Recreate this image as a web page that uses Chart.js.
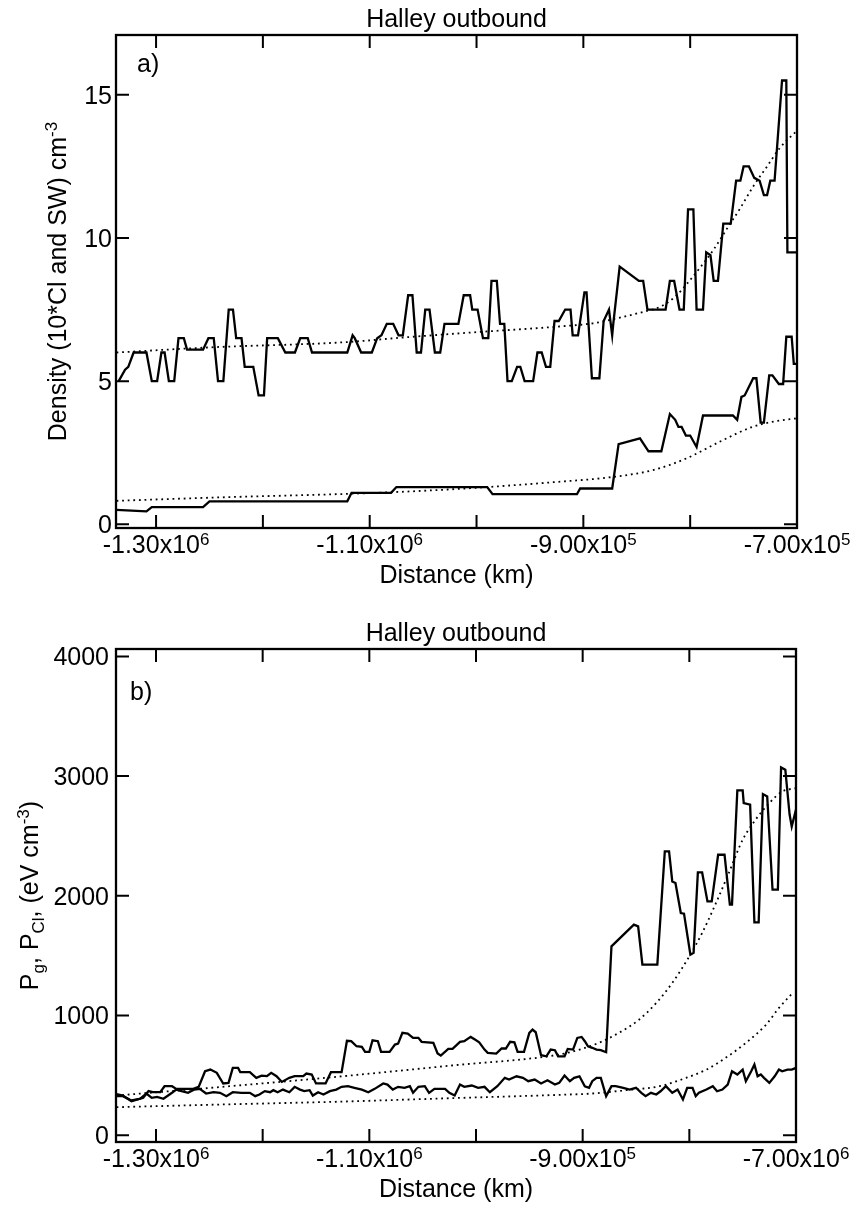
<!DOCTYPE html>
<html>
<head>
<meta charset="utf-8">
<title>Halley outbound</title>
<script src="https://cdn.jsdelivr.net/npm/chart.js@4.4.0/dist/chart.umd.min.js"></script>
<style>
  html, body { margin: 0; padding: 0; background: #fff; }
  #wrap { position: relative; width: 857px; height: 1210px; }
  canvas { position: absolute; left: 0; }
</style>
</head>
<body>
<div id="wrap">
  <canvas id="chartA" width="857" height="605" style="top:0"></canvas>
  <canvas id="chartB" width="857" height="605" style="top:605px"></canvas>
</div>
<script>
// ---- panel a: densities (cm-3) against distance (km) ----
const swDist = [-1335e3, -1329e3, -1326e3, -1321e3, -1312e3, -1309e3, -1304e3, -1299e3, -1295e3, -1292e3,
  -1288e3, -1283e3, -1279e3, -1274e3, -1271e3, -1256e3, -1251e3, -1246e3, -1242e3, -1237e3,
  -1232e3, -1228e3, -1225e3, -1220e3, -1217e3, -1209e3, -1204e3, -1199e3, -1196e3, -1186e3,
  -1179e3, -1170e3, -1165e3, -1158e3, -1154e3, -1121e3, -1116e3, -1114e3, -1108e3, -1098e3,
  -1093e3, -1089e3, -1084e3, -1078e3, -1073e3, -1069e3, -1064e3, -1060e3, -1056e3, -1052e3,
  -1048e3, -1044e3, -1039e3, -1034e3, -1030e3, -1017e3, -1012e3, -1006e3, -1004e3, -999e3,
  -994e3, -989e3, -986e3, -981e3, -978e3, -974e3, -971e3, -967e3, -962e3, -959e3,
  -955e3, -947e3, -943e3, -939e3, -935e3, -931e3, -927e3, -923e3, -917e3, -912e3,
  -910e3, -905e3, -899e3, -897e3, -892e3, -885e3, -881e3, -876e3, -873e3, -872e3,
  -866e3, -848e3, -844e3, -840e3, -823e3, -819e3, -815e3, -810e3, -806e3, -802e3,
  -797e3, -794e3, -788e3, -785e3, -781e3, -778e3, -774e3, -769e3, -762e3, -757e3,
  -753e3, -750e3, -745e3, -740e3, -735e3, -731e3, -728e3, -725e3, -721e3, -714e3,
  -710e3, -709e3, -700e3];
const swDens = [5.0, 5.4, 5.5, 6.0, 6.0, 6.0, 5.0, 5.0, 6.0, 6.0,
  5.0, 5.0, 6.5, 6.5, 6.1, 6.1, 6.5, 6.5, 5.0, 5.0,
  7.5, 7.5, 6.5, 6.5, 5.5, 5.5, 4.5, 4.5, 6.5, 6.5,
  6.0, 6.0, 6.5, 6.5, 6.0, 6.0, 6.6, 6.5, 6.0, 6.0,
  6.5, 6.6, 7.0, 7.0, 6.6, 6.6, 8.0, 8.0, 6.0, 6.0,
  7.5, 7.5, 6.0, 6.0, 7.0, 7.0, 8.0, 8.0, 7.5, 7.5,
  6.5, 6.5, 8.5, 8.5, 7.0, 7.0, 5.0, 5.0, 5.5, 5.5,
  5.0, 5.0, 6.0, 6.0, 5.5, 5.5, 7.1, 7.1, 7.5, 7.5,
  6.6, 6.6, 8.1, 8.1, 5.1, 5.1, 7.1, 7.5, 6.6, 7.0,
  9.0, 8.5, 8.5, 7.5, 7.5, 8.5, 8.5, 7.5, 7.5, 11.0,
  11.0, 7.5, 7.5, 9.5, 9.4, 8.5, 8.5, 10.5, 10.5, 12.0,
  12.0, 12.5, 12.5, 12.1, 12.0, 11.5, 11.5, 12.0, 12.0, 15.5,
  15.5, 9.5, 9.5];

const clDist = [-1337e3, -1309e3, -1304e3, -1256e3, -1250e3, -1121e3, -1117e3, -1080e3, -1075e3, -990e3,
  -985e3, -906e3, -903e3, -873e3, -867e3, -847e3, -839e3, -827e3, -819e3, -814e3,
  -811e3, -808e3, -804e3, -800e3, -794e3, -788e3, -775e3, -760e3, -756e3, -752e3,
  -749e3, -741e3, -738e3, -734e3, -731e3, -726e3, -723e3, -717e3, -713e3, -710e3,
  -705e3, -703e3, -700e3];
const clDens = [0.5, 0.45, 0.6, 0.6, 0.8, 0.8, 1.1, 1.1, 1.3, 1.3,
  1.05, 1.05, 1.25, 1.25, 2.8, 3.0, 2.55, 2.55, 3.85, 3.65,
  3.4, 3.4, 3.1, 3.1, 2.7, 3.8, 3.8, 3.8, 3.65, 4.45,
  4.5, 5.1, 5.1, 3.55, 3.55, 5.2, 5.2, 4.9, 4.9, 6.55,
  6.55, 5.6, 5.6];

// fitted curves (dotted)
const swFitDist = [-1337e3, -1249e3, -1123e3, -1070e3, -1008e3, -912e3, -891e3, -869e3, -844e3, -828e3,
  -814e3, -803e3, -791e3, -778e3, -766e3, -753e3, -741e3, -728e3, -716e3, -700e3];
const swFitDens = [6.0, 6.18, 6.36, 6.52, 6.69, 6.94, 7.02, 7.19, 7.42, 7.6,
  7.95, 8.4, 8.95, 9.6, 10.3, 11.05, 11.8, 12.5, 13.15, 13.75];
const clFitDist = [-1337e3, -1231e3, -1123e3, -1044e3, -990e3, -928e3, -873e3, -834e3, -803e3, -772e3,
  -741e3, -720e3, -700e3];
const clFitDens = [0.82, 0.95, 1.06, 1.18, 1.3, 1.47, 1.65, 1.9, 2.31, 2.89,
  3.41, 3.6, 3.7];

// ---- panel b: pressures (eV cm-3) against distance (km) ----
const pgDist = [-1337e3, -1331e3, -1323e3, -1312e3, -1307e3, -1303e3, -1296e3, -1292e3, -1285e3, -1281e3,
  -1265e3, -1260e3, -1254e3, -1249e3, -1243e3, -1237e3, -1232e3, -1228e3, -1223e3, -1221e3,
  -1212e3, -1206e3, -1201e3, -1196e3, -1192e3, -1187e3, -1182e3, -1175e3, -1170e3, -1162e3,
  -1159e3, -1154e3, -1150e3, -1141e3, -1136e3, -1126e3, -1121e3, -1117e3, -1112e3, -1107e3,
  -1104e3, -1100e3, -1097e3, -1092e3, -1089e3, -1081e3, -1076e3, -1073e3, -1069e3, -1064e3,
  -1059e3, -1054e3, -1051e3, -1040e3, -1036e3, -1033e3, -1026e3, -1022e3, -1015e3, -1011e3,
  -1005e3, -1001e3, -997e3, -992e3, -989e3, -981e3, -976e3, -972e3, -968e3, -964e3,
  -961e3, -955e3, -950e3, -947e3, -944e3, -939e3, -934e3, -930e3, -926e3, -923e3,
  -917e3, -914e3, -909e3, -905e3, -901e3, -898e3, -895e3, -891e3, -887e3, -883e3,
  -878e3, -873e3, -852e3, -848e3, -844e3, -830e3, -823e3, -819e3, -816e3, -813e3,
  -808e3, -805e3, -799e3, -796e3, -792e3, -788e3, -783e3, -779e3, -773e3, -767e3,
  -762e3, -760e3, -755e3, -750e3, -749e3, -743e3, -739e3, -735e3, -731e3, -727e3,
  -722e3, -717e3, -714e3, -710e3, -706e3, -704e3, -700e3];
const pgVal = [342, 331, 284, 312, 368, 359, 359, 409, 409, 387,
  387, 404, 534, 548, 521, 432, 437, 562, 562, 526,
  526, 479, 498, 493, 521, 493, 445, 479, 493, 493,
  515, 507, 432, 432, 526, 526, 789, 785, 743, 738,
  696, 696, 793, 785, 696, 696, 757, 765, 855, 849,
  813, 813, 780, 771, 682, 665, 721, 721, 780, 785,
  821, 799, 776, 715, 688, 682, 724, 724, 780, 776,
  696, 696, 855, 882, 860, 668, 659, 715, 710, 659,
  659, 721, 715, 813, 821, 785, 743, 730, 715, 710,
  693, 1578, 1759, 1745, 1425, 1425, 2371, 2371, 2120, 2107,
  1856, 1851, 1508, 1523, 2195, 2195, 1953, 1953, 2343, 2343,
  1926, 1926, 2880, 2880, 2775, 2761, 1778, 1778, 2850, 2830,
  2051, 2051, 3072, 3053, 2679, 2579, 2721];

const pclDist = [-1337e3, -1331e3, -1323e3, -1315e3, -1309e3, -1304e3, -1299e3, -1293e3, -1285e3, -1281e3,
  -1276e3, -1270e3, -1264e3, -1259e3, -1253e3, -1246e3, -1240e3, -1234e3, -1228e3, -1220e3,
  -1212e3, -1207e3, -1203e3, -1198e3, -1193e3, -1190e3, -1186e3, -1181e3, -1175e3, -1170e3,
  -1165e3, -1161e3, -1156e3, -1153e3, -1148e3, -1143e3, -1137e3, -1131e3, -1126e3, -1120e3,
  -1114e3, -1107e3, -1101e3, -1095e3, -1087e3, -1083e3, -1078e3, -1073e3, -1067e3, -1062e3,
  -1059e3, -1054e3, -1048e3, -1044e3, -1039e3, -1029e3, -1025e3, -1020e3, -1015e3, -1011e3,
  -1004e3, -998e3, -992e3, -987e3, -980e3, -973e3, -969e3, -962e3, -956e3, -951e3,
  -945e3, -939e3, -933e3, -926e3, -922e3, -917e3, -912e3, -908e3, -903e3, -898e3,
  -894e3, -891e3, -887e3, -883e3, -878e3, -873e3, -869e3, -862e3, -856e3, -850e3,
  -845e3, -841e3, -836e3, -831e3, -827e3, -822e3, -816e3, -811e3, -806e3, -802e3,
  -797e3, -794e3, -791e3, -784e3, -778e3, -774e3, -769e3, -764e3, -760e3, -755e3,
  -750e3, -747e3, -742e3, -739e3, -736e3, -733e3, -730e3, -725e3, -720e3, -716e3,
  -713e3, -708e3, -704e3, -700e3];
const pclVal = [326, 326, 290, 304, 348, 312, 320, 304, 354, 381,
  368, 354, 381, 387, 348, 359, 354, 326, 359, 354,
  354, 326, 340, 368, 359, 376, 359, 381, 359, 404,
  381, 368, 376, 331, 359, 340, 368, 381, 404, 409,
  396, 381, 359, 387, 432, 423, 381, 404, 396, 409,
  354, 404, 409, 354, 387, 387, 354, 331, 423, 404,
  415, 396, 404, 359, 409, 479, 465, 492, 479, 451,
  465, 432, 459, 423, 437, 498, 451, 479, 492, 409,
  396, 451, 479, 479, 326, 409, 409, 396, 381, 396,
  354, 326, 354, 340, 367, 409, 354, 381, 298, 396,
  396, 326, 354, 381, 409, 367, 381, 423, 534, 507,
  548, 451, 534, 590, 492, 507, 479, 437, 492, 548,
  534, 548, 548, 562];

const pgFitDist = [-1337e3, -1231e3, -1128e3, -1023e3, -922e3, -903e3, -885e3, -866e3, -847e3, -831e3,
  -816e3, -800e3, -788e3, -775e3, -763e3, -750e3, -738e3, -725e3, -713e3, -700e3];
const pgFitVal = [331, 409, 490, 582, 674, 715, 771, 855, 966, 1105,
  1272, 1494, 1689, 1940, 2190, 2468, 2635, 2775, 2871, 2900];
const pclFitDist = [-1337e3, -1231e3, -1128e3, -1020e3, -912e3, -891e3, -859e3, -828e3, -803e3, -784e3,
  -766e3, -747e3, -728e3, -716e3, -703e3];
const pclFitVal = [234, 258, 280, 310, 340, 348, 376, 409, 479, 548,
  646, 771, 924, 1063, 1189];

// axes
const xMin = -1337.5e3, xMax = -700e3;
const xTickVals = [-1.3e6, -1.2e6, -1.1e6, -1.0e6, -0.9e6, -0.8e6, -0.7e6];
const xLabelVals = [-1.3e6, -1.1e6, -0.9e6, -0.7e6];
const xLabelsA = [['-1.30x10', '6'], ['-1.10x10', '6'], ['-9.00x10', '5'], ['-7.00x10', '5']];
const xLabelsB = [['-1.30x10', '6'], ['-1.10x10', '6'], ['-9.00x10', '5'], ['-7.00x10', '6']];
const yTicksA = [0, 5, 10, 15];
const yTicksB = [0, 1000, 2000, 3000, 4000];

const FONT = '"Liberation Sans", Arial, Helvetica, sans-serif';
const SIZE = 25;
const SUP = 17;
const TICK = 13;

const toPts = (xs, ys) => xs.map((d, i) => ({ x: d, y: ys[i] }));

const solid = (xs, ys) => ({
  data: toPts(xs, ys), showLine: true, pointRadius: 0,
  borderColor: '#000', borderWidth: 2.3, tension: 0
});
const dotted = (xs, ys) => ({
  data: toPts(xs, ys), showLine: true, pointRadius: 0,
  borderColor: '#000', borderWidth: 1.8, borderDash: [1.8, 3.8],
  cubicInterpolationMode: 'monotone'
});

// draws a run of text pieces with sub/superscripts, centred on 0
function richText(ctx, parts) {
  const widths = parts.map(p => {
    ctx.font = (p.sup || p.sub ? SUP : SIZE) + 'px ' + FONT;
    return ctx.measureText(p.t).width;
  });
  let x = -widths.reduce((s, w) => s + w, 0) / 2;
  parts.forEach((p, i) => {
    ctx.font = (p.sup || p.sub ? SUP : SIZE) + 'px ' + FONT;
    const dy = p.sup ? -SIZE * 0.36 : p.sub ? SIZE * 0.22 : 0;
    ctx.fillText(p.t, x, dy);
    x += widths[i];
  });
}

const frameAndText = {
  id: 'frameAndText',
  afterDraw(chart, args, o) {
    const { ctx, chartArea: a, scales: { x, y } } = chart;
    const cx = (a.left + a.right) / 2;
    ctx.save();
    ctx.strokeStyle = '#000';
    ctx.fillStyle = '#000';
    ctx.lineWidth = 2.3;
    ctx.strokeRect(a.left, a.top, a.right - a.left, a.bottom - a.top);

    // inward ticks on all four sides
    ctx.lineWidth = 2;
    ctx.beginPath();
    xTickVals.forEach(v => {
      const px = x.getPixelForValue(v);
      ctx.moveTo(px, a.bottom); ctx.lineTo(px, a.bottom - TICK);
      ctx.moveTo(px, a.top); ctx.lineTo(px, a.top + TICK);
    });
    o.yTicks.forEach(v => {
      const py = y.getPixelForValue(v);
      ctx.moveTo(a.left, py); ctx.lineTo(a.left + TICK, py);
      ctx.moveTo(a.right, py); ctx.lineTo(a.right - TICK, py);
    });
    ctx.stroke();

    // y tick labels
    ctx.font = SIZE + 'px ' + FONT;
    ctx.textAlign = 'right';
    ctx.textBaseline = 'alphabetic';
    o.yTicks.forEach(v => {
      ctx.fillText(String(v), a.left - o.yLabelGap, y.getPixelForValue(v) + 9);
    });

    // x tick labels with powers of ten
    ctx.textAlign = 'left';
    xLabelVals.forEach((v, i) => {
      const [m, e] = o.xLabels[i];
      ctx.font = SIZE + 'px ' + FONT;
      const wm = ctx.measureText(m).width;
      ctx.font = SUP + 'px ' + FONT;
      const we = ctx.measureText(e).width;
      const left = x.getPixelForValue(v) - (wm + we) / 2;
      const base = a.bottom + 25;
      ctx.font = SIZE + 'px ' + FONT;
      ctx.fillText(m, left, base);
      ctx.font = SUP + 'px ' + FONT;
      ctx.fillText(e, left + wm, base - 8);
    });

    // titles
    ctx.font = SIZE + 'px ' + FONT;
    ctx.textAlign = 'center';
    ctx.fillText('Distance (km)', cx, a.bottom + 55);
    ctx.fillText(o.title, cx, a.top - 8);
    ctx.textAlign = 'left';
    ctx.fillText(o.panel, a.left + o.panelPos[0], a.top + o.panelPos[1]);

    // rotated y-axis title
    ctx.save();
    ctx.translate(o.yTitleX, (a.top + a.bottom) / 2);
    ctx.rotate(-Math.PI / 2);
    ctx.textAlign = 'left';
    richText(ctx, o.yTitle);
    ctx.restore();

    ctx.restore();
  }
};

function makeChart(id, datasets, yMin, yMax, pad, opts) {
  return new Chart(document.getElementById(id), {
    type: 'scatter',
    data: { datasets },
    options: {
      responsive: false,
      animation: false,
      devicePixelRatio: 1,
      events: [],
      layout: { padding: pad },
      scales: {
        x: {
          type: 'linear', min: xMin, max: xMax,
          grid: { display: false }, border: { display: false }, ticks: { display: false },
          afterFit: s => { s.height = 0; }
        },
        y: {
          type: 'linear', min: yMin, max: yMax,
          grid: { display: false }, border: { display: false }, ticks: { display: false },
          afterFit: s => { s.width = 0; }
        }
      },
      plugins: {
        legend: { display: false },
        tooltip: { enabled: false },
        frameAndText: opts
      }
    },
    plugins: [frameAndText]
  });
}

makeChart('chartA', [
  solid(swDist, swDens),
  solid(clDist, clDens),
  dotted(swFitDist, swFitDens),
  dotted(clFitDist, clFitDens)
], -0.13, 17.09, { left: 116, right: 60, top: 35, bottom: 77 }, {
  title: 'Halley outbound',
  panel: 'a)',
  panelPos: [21, 37],
  yTicks: yTicksA,
  yLabelGap: 4,
  xLabels: xLabelsA,
  yTitleX: 66,
  yTitle: [{ t: 'Density (10*Cl and SW) cm' }, { t: '-3', sup: true }]
});

makeChart('chartB', [
  solid(pgDist, pgVal),
  solid(pclDist, pclVal),
  dotted(pgFitDist, pgFitVal),
  dotted(pclFitDist, pclFitVal)
], -57, 4062, { left: 116, right: 61, top: 44, bottom: 68 }, {
  title: 'Halley outbound',
  panel: 'b)',
  panelPos: [14, 51],
  yTicks: yTicksB,
  yLabelGap: 7,
  xLabels: xLabelsB,
  yTitleX: 38,
  yTitle: [{ t: 'P' }, { t: 'g', sub: true }, { t: ', P' }, { t: 'Cl', sub: true },
           { t: ', (eV cm' }, { t: '-3', sup: true }, { t: ')' }]
});
</script>
</body>
</html>
